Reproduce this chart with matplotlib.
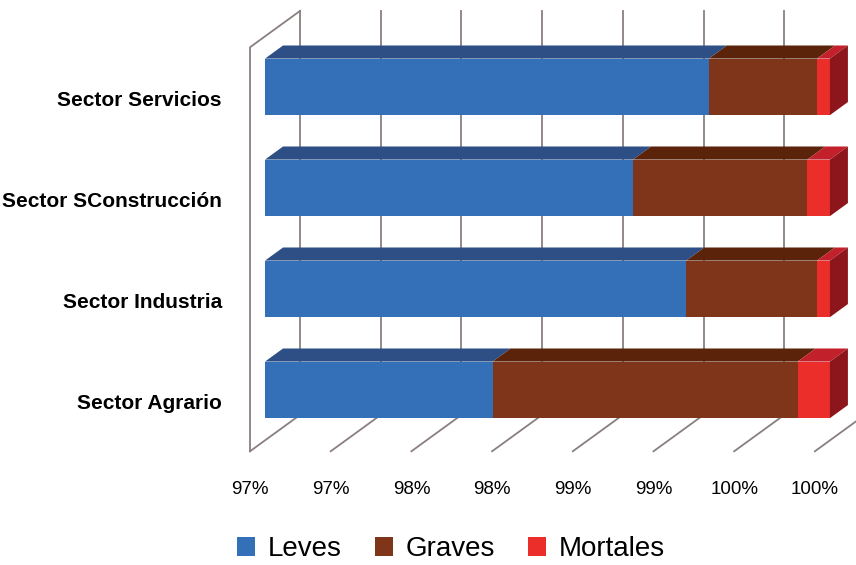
import numpy as np
import matplotlib.pyplot as plt
from matplotlib.patches import Polygon, Patch

plt.rcParams['font.family'] = ['Liberation Sans', 'DejaVu Sans']

# Data (bottom to top)
sectores = ['Sector Agrario', 'Sector Industria', 'Sector SConstrucción', 'Sector Servicios']
leves = [97.91, 99.11, 98.78, 99.25]
graves = [1.89, 0.81, 1.08, 0.67]
mortales = [0.20, 0.08, 0.14, 0.08]
ticks = [96.5, 97.0, 97.5, 98.0, 98.5, 99.0, 99.5, 100.0]
tick_labels = ['97%', '97%', '98%', '98%', '99%', '99%', '100%', '100%']

series = ['Leves', 'Graves', 'Mortales']
front_col = ['#3470b8', '#7e3519', '#ec2e2b']
top_col = ['#2d4f86', '#5a230a', '#c2202a']
side_col = ['#3470b8', '#7e3519', '#8c161b']
grid_col = '#8a7f7f'

# oblique projection: depth z in [0, 1]
ox, oy = 0.31, 0.36
z0, z1 = 0.3, 0.66
h = 0.56
xmin = 96.5


def P(x, y, z):
    return (x + z * ox, y + z * oy)


fig = plt.figure(figsize=(8.56, 5.65), dpi=100)
ax = fig.add_axes([0, 0, 1, 1])
ax.set_xlim(96.5 - 250 / 161.4, 96.5 + 606 / 161.4)
ax.set_ylim(-1.626, 3.968)
ax.axis('off')

ybot, ytop = -0.5, 3.5

# back wall gridlines and floor diagonals
for t in ticks:
    ax.plot(*zip(P(t, ybot, 1), P(t, ytop, 1)), color=grid_col, lw=1.3, zorder=1)
    ax.plot(*zip(P(t, ybot, 0), P(t, ybot, 1)), color=grid_col, lw=1.3, zorder=1)
# left wall
ax.plot(*zip(P(xmin, ybot, 0), P(xmin, ytop, 0), P(xmin, ytop, 1)),
        color=grid_col, lw=1.3, zorder=1)

# bars
for i, name in enumerate(sectores):
    vals = [leves[i], graves[i], mortales[i]]
    left = xmin
    for k, v in enumerate(vals):
        right = left + v if k > 0 else v
        lo, hi = i - h / 2, i + h / 2
        front = [P(left, lo, z0), P(right, lo, z0), P(right, hi, z0), P(left, hi, z0)]
        top = [P(left, hi, z0), P(right, hi, z0), P(right, hi, z1), P(left, hi, z1)]
        ax.add_patch(Polygon(top, closed=True, fc=top_col[k], ec='none', zorder=3))
        ax.add_patch(Polygon(front, closed=True, fc=front_col[k], ec='none', zorder=3))
        if k == len(vals) - 1:
            side = [P(right, lo, z0), P(right, lo, z1), P(right, hi, z1), P(right, hi, z0)]
            ax.add_patch(Polygon(side, closed=True, fc=side_col[k], ec='none', zorder=3))
        left = right
    # right-aligned labels, kept clear of the wall
    ax.text(96.5 - 28 / 161.4, i - 0.03, name, ha='right', va='center',
            fontsize=15, fontweight='bold', color='black')

for t, lab in zip(ticks, tick_labels):
    ax.text(t, -0.88, lab, ha='center', va='center', fontsize=13.5, color='black')

handles = [Patch(fc=c, ec='none') for c in front_col]
fig.legend(handles, series, loc='center', bbox_to_anchor=(0.527, 0.028), ncol=3,
           frameon=False, fontsize=20, handlelength=0.65, handleheight=0.65,
           handletextpad=0.45, columnspacing=1.2)

fig.savefig('out.png', dpi=100)
